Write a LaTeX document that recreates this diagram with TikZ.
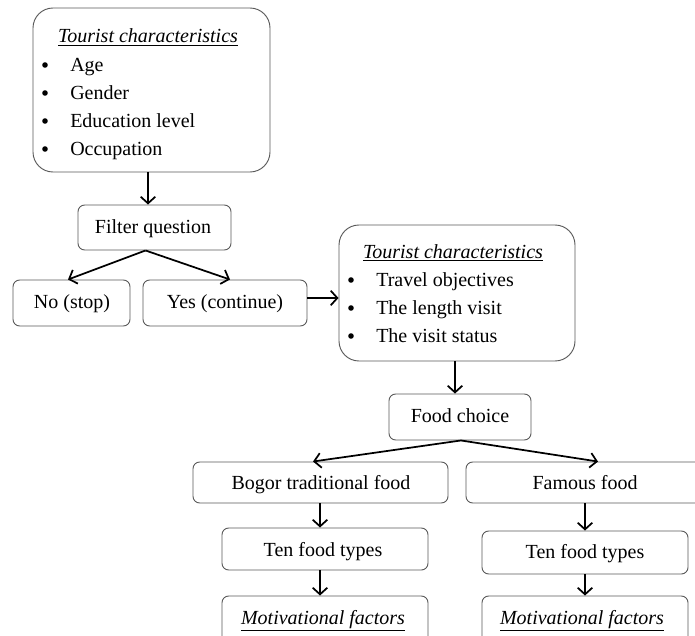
\documentclass[tikz,border=0pt]{standalone}
\usepackage{fontspec}
\setmainfont{Liberation Serif}
\usetikzlibrary{arrows.meta,calc}
\begin{document}
\begin{tikzpicture}[x=0.75pt,y=-0.75pt,
  box/.style={draw=black!65,line width=0.7pt,rounded corners=5pt,inner sep=0pt},
  bigbox/.style={draw=black!65,line width=0.7pt,rounded corners=15pt,inner sep=0pt},
  txt/.style={inner sep=0pt,anchor=base,font=\fontsize{15}{18}\selectfont},
  ltxt/.style={txt,anchor=base west},
  bul/.style={circle,fill=black,inner sep=0pt,minimum size=4.2pt},
  arr/.style={-{Straight Barb[length=5pt,width=11pt,line width=1.3pt]},line width=1.3pt,black}]
\useasboundingbox (0,0) rectangle (695,635);
\clip (0,0) rectangle (695,635);
% boxes
\node[bigbox,minimum width=177.75pt,minimum height=123pt] (top) at (151.5,90) {};
\node[box,minimum width=114.75pt,minimum height=33.75pt] (filter) at (154.5,227.5) {};
\node[box,minimum width=87.75pt,minimum height=34.5pt] (no) at (71.5,303) {};
\node[box,minimum width=123pt,minimum height=34.5pt] (yes) at (225,303) {};
\node[bigbox,minimum width=177pt,minimum height=102pt] (char) at (457,293) {};
\node[box,minimum width=106.5pt,minimum height=34.5pt] (food) at (460,417) {};
\node[box,minimum width=191.25pt,minimum height=30.75pt] (bogor) at (320.5,482.5) {};
\node[box,minimum width=183pt,minimum height=30.75pt] (famous) at (588,482.5) {};
\node[box,minimum width=154.5pt,minimum height=31.5pt] (tenA) at (325,549) {};
\node[box,minimum width=154.5pt,minimum height=37.5pt] (motA) at (325,621) {};
\node[box,minimum width=154.5pt,minimum height=32.25pt] (tenB) at (585,552.5) {};
\node[box,minimum width=154.5pt,minimum height=37.5pt] (motB) at (585,621) {};
% texts
\node[txt] (t1) at (148,43) {\underline{\textit{Tourist characteristics}}};
\foreach \y/\s [count=\i] in {65/Age,93/Gender,121/Education level,149/Occupation}{
  \node[bul] (b1\i) at (45,\y) {};
  \node[ltxt] (i1\i) at (70,\y+6) {\s};
}
\node[txt] (t2) at (453,258) {\underline{\textit{Tourist characteristics}}};
\foreach \y/\s [count=\i] in {280/Travel objectives,308/The length visit,336/The visit status}{
  \node[bul] (b2\i) at (351,\y) {};
  \node[ltxt] (i2\i) at (376,\y+6) {\s};
}
\node[txt] (tf) at (153,233) {Filter question};
\node[txt] (tn) at (72,308) {No (stop)};
\node[txt] (ty) at (225,308) {Yes (continue)};
\node[txt] (tc) at (460,422) {Food choice};
\node[txt] (tb) at (321,489) {Bogor traditional food};
\node[txt] (tfa) at (585,489) {Famous food};
\node[txt] (ta) at (323,556) {Ten food types};
\node[txt] (tb2) at (585,558) {Ten food types};
\node[txt] (ma) at (323,624) {\underline{\textit{Motivational factors}}};
\node[txt] (mb) at (582,624) {\underline{\textit{Motivational factors}}};
% arrows
\draw[arr] ($(top.south)+(-3.5,0)$) -- ($(filter.north)+(-6.5,0)$);
\coordinate (fs) at ($(filter.south)+(-9,0)$);
\draw[arr] (fs) -- ($(no.north)+(-3.5,0)$);
\draw[arr] (fs) -- ($(yes.north)+(5,0)$);
\draw[arr] ($(yes.east)+(0,-5)$) -- ($(char.west)+(0,5)$);
\draw[arr] ($(char.south)+(-2,0)$) -- ($(food.north)+(-5,0)$);
\coordinate (fd) at ($(food.south)+(1,0)$);
\draw[arr] (fd) -- ($(bogor.north)+(-7.5,0)$);
\draw[arr] (fd) -- ($(famous.north)+(10,0)$);
\draw[arr] ($(bogor.south)+(-0.5,0)$) -- ($(tenA.north)+(-5,0)$);
\draw[arr] ($(tenA.south)+(-5,0)$) -- ($(motA.north)+(-5,0)$);
\draw[arr] ($(famous.south)+(-3,0)$) -- (tenB.north);
\draw[arr] (tenB.south) -- (motB.north);
\end{tikzpicture}
\end{document}
